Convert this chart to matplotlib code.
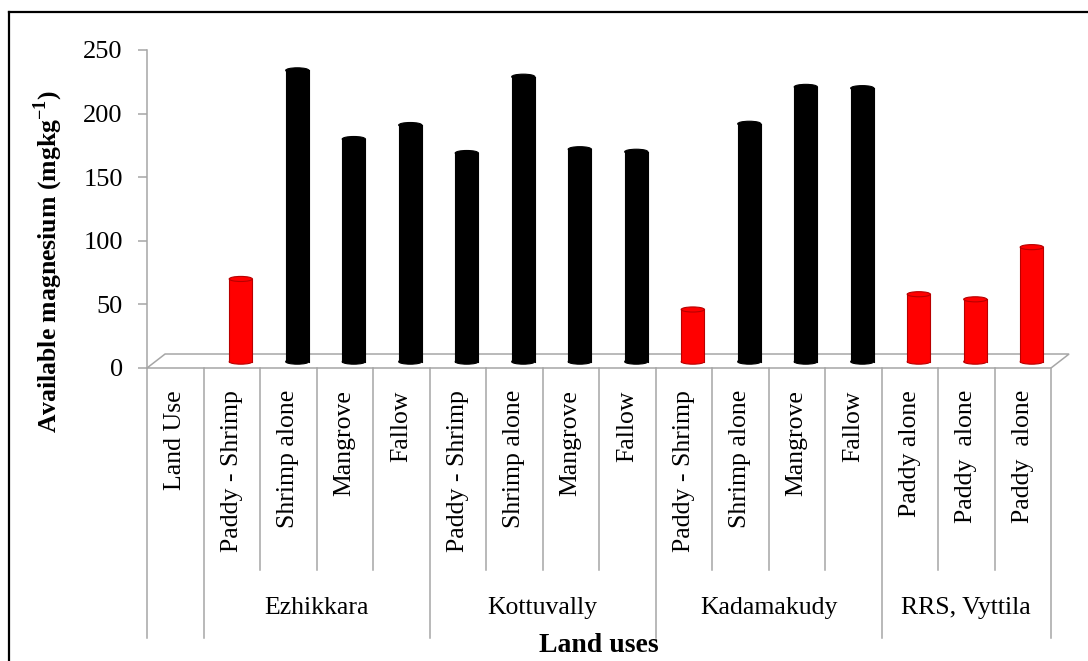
import matplotlib.pyplot as plt
import matplotlib.transforms as mtransforms
from matplotlib.patches import Rectangle, Ellipse, Polygon
from matplotlib.lines import Line2D

# available Mg by land use and location
groups = ['Ezhikkara', 'Kottuvally', 'Kadamakudy', 'RRS, Vyttila']
land_uses = [
    ['Paddy - Shrimp', 'Shrimp alone', 'Mangrove', 'Fallow'],
    ['Paddy - Shrimp', 'Shrimp alone', 'Mangrove', 'Fallow'],
    ['Paddy - Shrimp', 'Shrimp alone', 'Mangrove', 'Fallow'],
    ['Paddy alone', 'Paddy  alone', 'Paddy  alone'],
]
mg_values = [
    [65, 229, 175, 186],
    [164, 224, 167, 165],
    [41, 187, 216, 215],
    [53, 49, 90],
]
bar_colors = [
    ['red', 'black', 'black', 'black'],
    ['black', 'black', 'black', 'black'],
    ['red', 'black', 'black', 'black'],
    ['red', 'red', 'red'],
]
yticks = [0, 50, 100, 150, 200, 250]

W, H = 1088, 661
fig = plt.figure(figsize=(W / 100, H / 100), dpi=100)
plt.rcParams['font.family'] = ['Liberation Serif', 'DejaVu Serif']

# plot area in pixels: x 147..1051, y 50..368
ax = fig.add_axes([147 / W, 1 - 368 / H, 904 / W, 318 / H])
ax.set_xlim(0, 16)
ax.set_ylim(0, 250)
for s in ['top', 'right', 'bottom']:
    ax.spines[s].set_visible(False)
ax.spines['left'].set_color('#a6a6a6')
ax.spines['left'].set_linewidth(1.1)
ax.set_xticks([])
ax.set_yticks(yticks)
ax.tick_params(axis='y', colors='#a6a6a6', length=6.5, width=1.1, pad=11,
               labelsize=19, labelcolor='black')

fig.text(48 / W, 1 - 262 / H, 'Available magnesium (mgkg$^{\\mathregular{-1}}$)',
         rotation=90, ha='center', va='center', fontsize=18.5, fontweight='bold')

gray = '#a6a6a6'
# depth of the floor (data units)
ddx, ddy = 0.32, 11
floor = Polygon([(0, 0), (16, 0), (16 + ddx, ddy), (ddx, ddy)], closed=True,
                facecolor='white', edgecolor=gray, lw=1.1, clip_on=False, zorder=1)
ax.add_patch(floor)

# cylinders
bw = 0.41
eh = 4.0
base = 5
edge_for = {'red': '#b80000', 'black': 'black'}
slot = 1
for g, uses in enumerate(land_uses):
    for i, use in enumerate(uses):
        v = mg_values[g][i]
        xc = slot + 0.5 + ddx / 2
        fc = '#ff0000' if bar_colors[g][i] == 'red' else 'black'
        ec = edge_for[bar_colors[g][i]]
        ax.add_patch(Ellipse((xc, base), bw, eh, facecolor=fc, edgecolor=ec,
                             lw=0.8, zorder=3, clip_on=False))
        ax.add_patch(Rectangle((xc - bw / 2, base), bw, v, facecolor=fc,
                               edgecolor='none', zorder=3, clip_on=False))
        ax.plot([xc - bw / 2, xc - bw / 2], [base, base + v], color=ec, lw=0.8, zorder=3)
        ax.plot([xc + bw / 2, xc + bw / 2], [base, base + v], color=ec, lw=0.8, zorder=3)
        ax.add_patch(Ellipse((xc, base + v), bw, eh, facecolor=fc, edgecolor=ec,
                             lw=0.8, zorder=4, clip_on=False))
        slot += 1

# category axis below the floor
tr = mtransforms.blended_transform_factory(ax.transData, fig.transFigure)
y_axis = 1 - 368 / H
y_short = 1 - 570 / H
y_long = 1 - 638 / H
y_lab = 1 - 390 / H
y_grp = 1 - 608 / H

ax.text(0.5, y_lab, 'Land Use', transform=tr, rotation=90, ha='center',
        va='top', fontsize=18.5)
ax.plot([0, 0], [y_axis, y_long], transform=tr, color=gray, lw=1.1, clip_on=False)
ax.plot([1, 1], [y_axis, y_long], transform=tr, color=gray, lw=1.1, clip_on=False)

slot = 1
for g, uses in enumerate(land_uses):
    start = slot
    for i, use in enumerate(uses):
        ax.text(slot + 0.5, y_lab, use, transform=tr, rotation=90, ha='center',
                va='top', fontsize=18.5)
        slot += 1
        y_end = y_long if i == len(uses) - 1 else y_short
        ax.plot([slot, slot], [y_axis, y_end], transform=tr, color=gray, lw=1.1,
                clip_on=False)
    ax.text((start + slot) / 2, y_grp, groups[g], transform=tr, ha='center',
            va='center', fontsize=18.5)

fig.text((147 + 1051) / 2 / W, 1 - 645 / H, 'Land uses', ha='center', va='center',
         fontsize=20, fontweight='bold')

# frame: only the left and top edges fall inside the image
fx, fy = 9 / W, 1 - 12 / H
fig.add_artist(Line2D([fx, fx], [0, fy], transform=fig.transFigure, color='black', lw=1.6))
fig.add_artist(Line2D([fx, 1], [fy, fy], transform=fig.transFigure, color='black', lw=1.6))

fig.savefig('out.png', dpi=100)
